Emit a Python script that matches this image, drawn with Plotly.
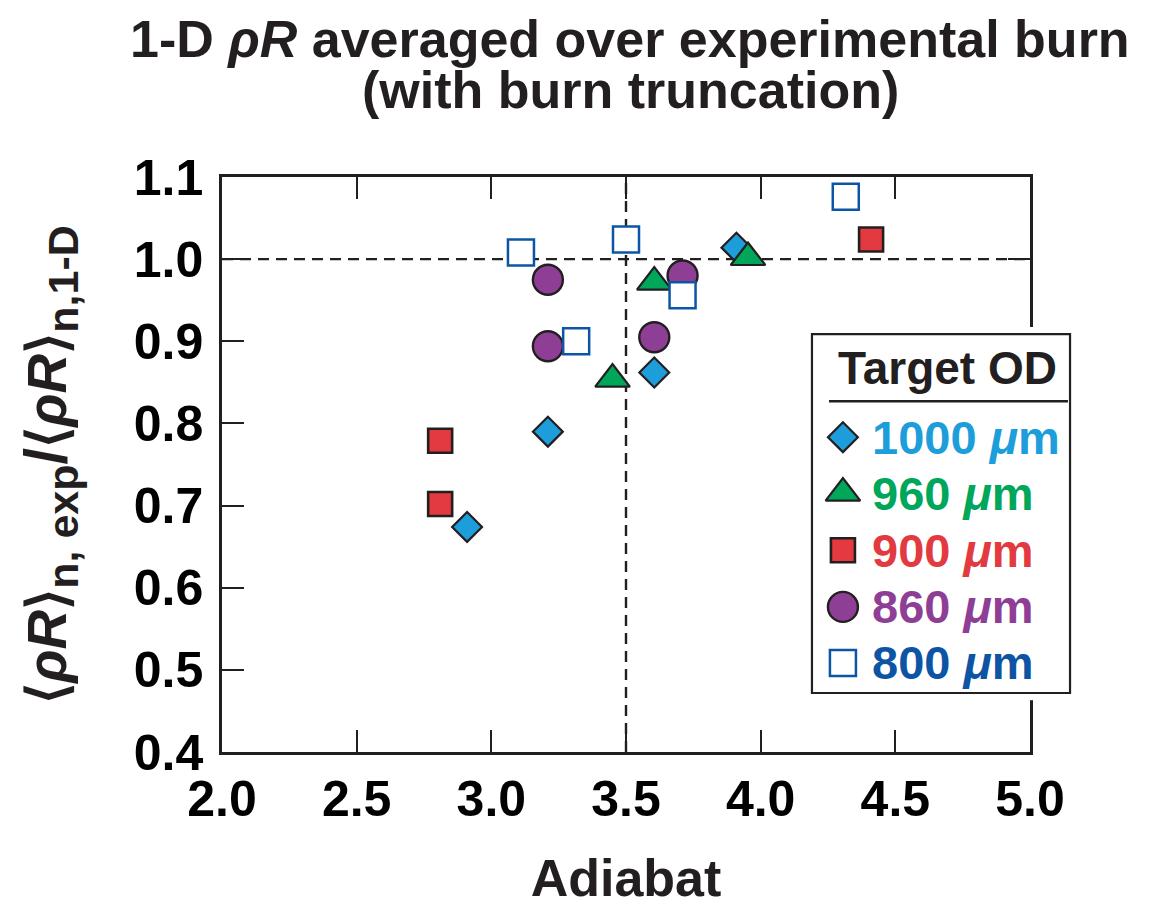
import plotly.graph_objects as go

# ---------------- data ----------------
adiabat_1000 = [2.91, 3.21, 3.605, 3.91]
rhoR_1000 = [0.674, 0.790, 0.862, 1.014]

adiabat_960 = [3.45, 3.605, 3.953]
rhoR_960 = [0.854, 0.972, 1.002]

adiabat_900 = [2.81, 2.81, 4.41]
rhoR_900 = [0.702, 0.779, 1.024]

adiabat_860 = [3.21, 3.21, 3.605, 3.71]
rhoR_860 = [0.894, 0.975, 0.905, 0.980]

adiabat_800 = [3.11, 3.315, 3.50, 3.71, 4.316]
rhoR_800 = [1.008, 0.900, 1.024, 0.956, 1.076]

series_labels = ["1000", "960", "900", "860", "800"]
x_ticks = [2.0, 2.5, 3.0, 3.5, 4.0, 4.5, 5.0]
y_ticks = [0.4, 0.5, 0.6, 0.7, 0.8, 0.9, 1.0, 1.1]
ref_adiabat = 3.5
ref_ratio = 1.0

# ---------------- styles ----------------
FONT = "Liberation Sans, Arial, Helvetica, sans-serif"
INK = "#231f20"
styles = [
    dict(symbol="diamond", size=23, color="#1e9ddb", line=dict(color=INK, width=2.2)),
    dict(symbol="triangle-up", size=30, color="#00a65a", line=dict(color=INK, width=2.2)),
    dict(symbol="square", size=24, color="#e23a40", line=dict(color=INK, width=2.6)),
    dict(symbol="circle", size=30, color="#8e3f95", line=dict(color=INK, width=2.4)),
    dict(symbol="square", size=26, color="white", line=dict(color="#0d55a4", width=2.5)),
]
text_colors = ["#1e9ddb", "#00a65a", "#e23a40", "#8e3f95", "#0d55a4"]
xs = [adiabat_1000, adiabat_960, adiabat_900, adiabat_860, adiabat_800]
ys = [rhoR_1000, rhoR_960, rhoR_900, rhoR_860, rhoR_800]

fig = go.Figure()

for x, y, st, lab in zip(xs, ys, styles, series_labels):
    fig.add_trace(go.Scatter(
        x=x, y=y, mode="markers", name=lab + " μm", showlegend=False,
        cliponaxis=False, marker=st, xaxis="x", yaxis="y"))

# ---------------- custom legend (own hidden subplot) ----------------
row_y = [0.713, 0.557, 0.398, 0.240, 0.084]
for st, lab, ry, tc in zip(styles, series_labels, row_y, text_colors):
    fig.add_trace(go.Scatter(
        x=[0.12], y=[ry], mode="markers", showlegend=False, cliponaxis=False,
        marker=st, xaxis="x2", yaxis="y2", hoverinfo="skip"))
    fig.add_annotation(x=0.225, y=ry, xref="x2", yref="y2", xanchor="left",
                       yanchor="middle", showarrow=False,
                       text=lab + " <i>μ</i>m",
                       font=dict(family=FONT, size=47, color=tc, weight="bold"))
fig.add_annotation(x=0.527, y=0.905, xref="x2", yref="y2", xanchor="center",
                   yanchor="middle", showarrow=False, text="Target OD",
                   font=dict(family=FONT, size=46, color=INK, weight="bold"))
fig.add_shape(type="rect", xref="x2", yref="y2", x0=0, x1=1, y0=0, y1=1,
              fillcolor="white", line=dict(color=INK, width=2.2), layer="below")
fig.add_shape(type="line", xref="x2", yref="y2", x0=0.066, x1=0.992,
              y0=0.813, y1=0.813, line=dict(color=INK, width=2.5), layer="above")

# ---------------- reference dashed lines ----------------
fig.add_shape(type="line", xref="x", yref="y", x0=ref_adiabat, x1=ref_adiabat,
              y0=y_ticks[0], y1=y_ticks[-1], layer="below",
              line=dict(color=INK, width=2.4, dash="11px,7px"))
fig.add_shape(type="line", xref="x", yref="y", x0=x_ticks[0], x1=x_ticks[-1],
              y0=ref_ratio, y1=ref_ratio, layer="below",
              line=dict(color=INK, width=2.4, dash="11px,7px"))

W, H = 1156, 907
L, R, T, B = 222, 76, 177, 155
pw = W - L - R
ph = H - T - B
main_right = (1030 - L) / pw

# ---------------- title (two lines, tight spacing) ----------------
title_lines = ["1-D <i>ρR</i> averaged over experimental burn", "(with burn truncation)"]
for line, py in zip(title_lines, [39, 90]):
    fig.add_annotation(x=(630 - L) / pw, y=(H - B - py) / ph, xref="paper", yref="paper",
                       xanchor="center", yanchor="middle", showarrow=False,
                       text=line,
                       font=dict(family=FONT, size=52, color=INK, weight="bold"))

axis_common = dict(
    showline=True, linewidth=2.5, linecolor=INK, mirror="ticks",
    ticks="inside", ticklen=22, tickwidth=2.2, tickcolor=INK,
    showgrid=False, zeroline=False, tickformat=".1f", automargin=False,
    tickfont=dict(family=FONT, size=50, color="black", weight="bold"),
)

SUB = '<span style="font-size:43px">'
ytitle = ("⟨<i>ρR</i>⟩<sub>" + SUB + "n, exp</span></sub>"
          '<span style="font-size:60px">/</span>'
          "⟨<i>ρR</i>⟩<sub>" + SUB + "n,1-D</span></sub>")

fig.update_layout(
    width=W, height=H,
    margin=dict(l=L, r=R, t=T, b=B, autoexpand=False),
    paper_bgcolor="white", plot_bgcolor="white",
    showlegend=False,
    xaxis=dict(domain=[0, main_right], range=[x_ticks[0], x_ticks[-1]],
               tickvals=x_ticks, ticklabelstandoff=1,
               title=dict(text="Adiabat", standoff=44,
                          font=dict(family=FONT, size=52, color=INK, weight="bold")),
               **axis_common),
    yaxis=dict(range=[y_ticks[0], y_ticks[-1]], tickvals=y_ticks,
               ticklabelstandoff=6,
               title=dict(text=ytitle, standoff=50,
                          font=dict(family=FONT, size=55, color=INK, weight="bold")),
               **axis_common),
    xaxis2=dict(domain=[(806.8 - L) / pw, (1075.2 - L) / pw], range=[-0.02, 1.02],
                visible=False, fixedrange=True, anchor="y2"),
    yaxis2=dict(domain=[(752 - 700.2) / 575, (752 - 327) / 575], range=[-0.02, 1.02],
                visible=False, fixedrange=True, anchor="x2"),
)

fig.write_html("out.html")
